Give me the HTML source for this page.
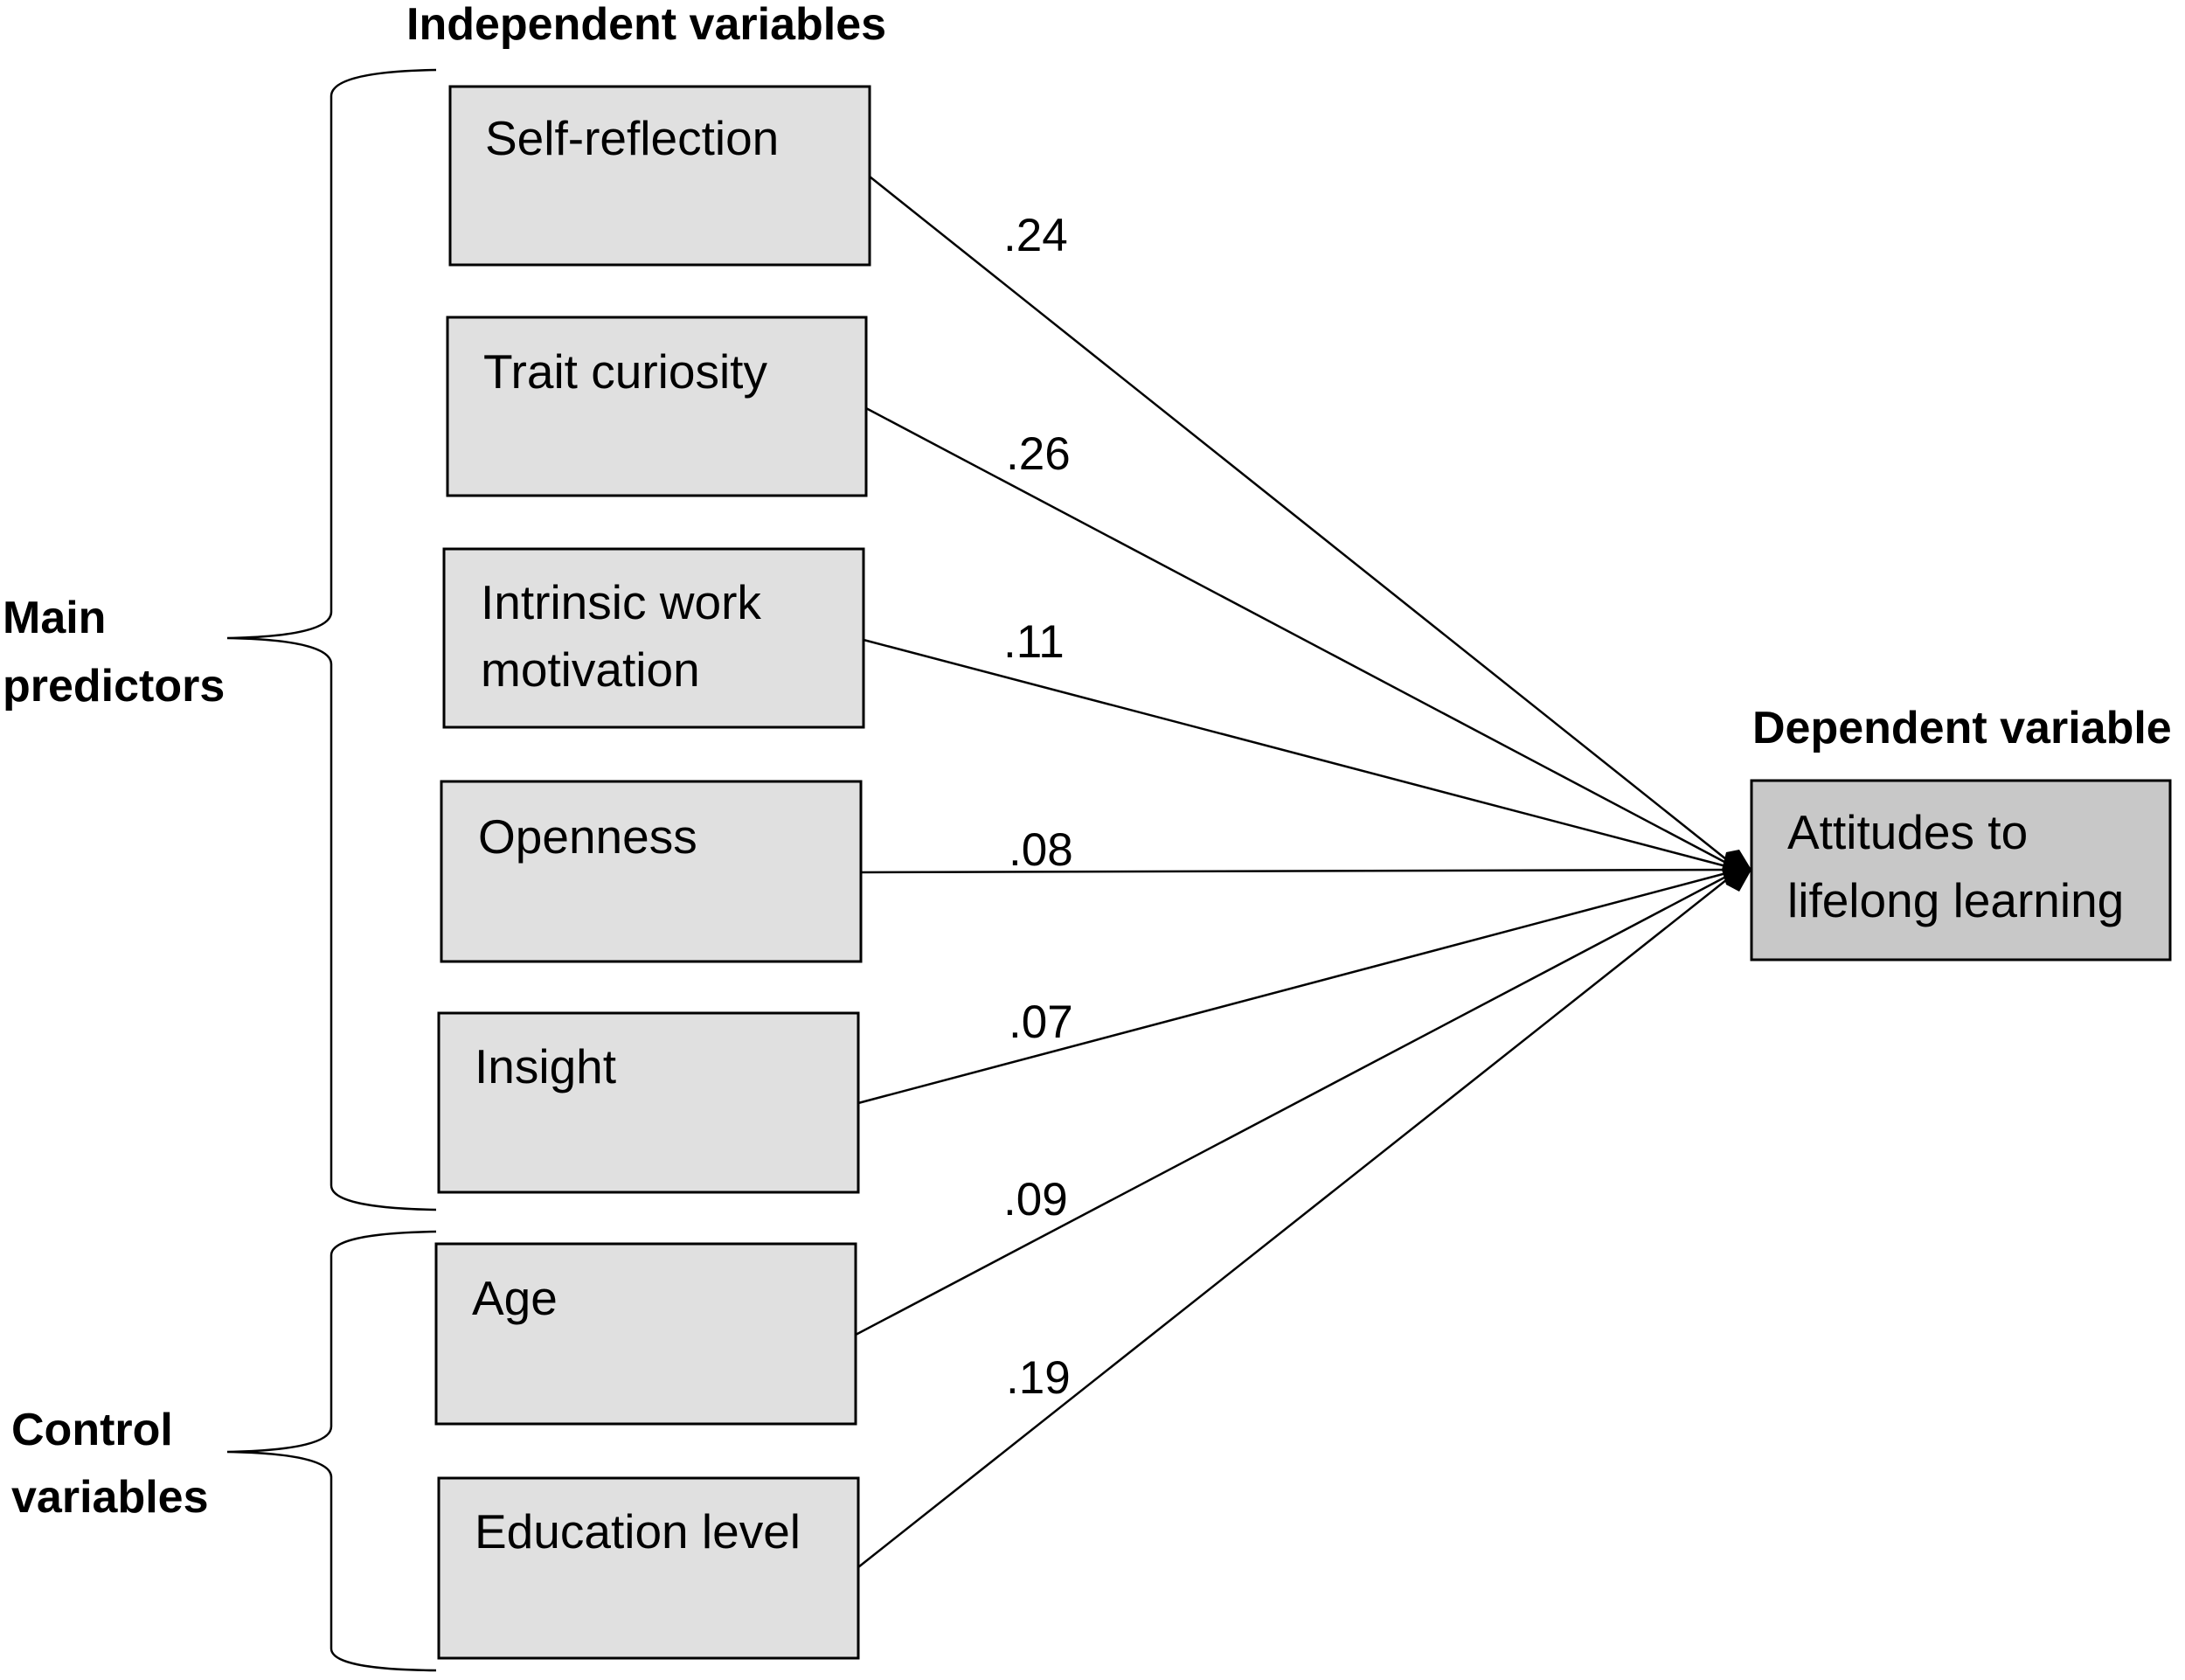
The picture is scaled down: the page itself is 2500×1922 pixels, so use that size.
<!DOCTYPE html>
<html><head><meta charset="utf-8"><style>
html,body{margin:0;padding:0;background:#fff;}
svg{display:block;}
text{font-family:"Liberation Sans",sans-serif;fill:#000;}
.t{font-size:55px;}
.b{font-size:52px;font-weight:bold;}
.n{font-size:53px;}
</style></head><body>
<svg width="2500" height="1922" viewBox="0 0 2500 1922">
<g fill="#e0e0e0" stroke="#000" stroke-width="3">
<rect x="515" y="99" width="480" height="204"/>
<rect x="512" y="363" width="479" height="204"/>
<rect x="508" y="628" width="480" height="204"/>
<rect x="505" y="894" width="480" height="206"/>
<rect x="502" y="1159" width="480" height="205"/>
<rect x="499" y="1423" width="480" height="206"/>
<rect x="502" y="1691" width="480" height="206"/>
<rect x="2004" y="893" width="479" height="205" fill="#c8c8c8"/>
</g>
<g stroke="#000" stroke-width="2.5" fill="none">
<line x1="995" y1="202" x2="1990" y2="995"/>
<line x1="991" y1="467" x2="1990" y2="995"/>
<line x1="988" y1="732" x2="1990" y2="995"/>
<line x1="985" y1="998" x2="1990" y2="995"/>
<line x1="982" y1="1262" x2="1990" y2="995"/>
<line x1="979" y1="1527" x2="1990" y2="995"/>
<line x1="982" y1="1793" x2="1990" y2="995"/>
<path d="M499 80 Q379 82 379 110 L379 700 Q379 728 260 730 Q379 732 379 760 L379 1356 Q379 1382 499 1384"/>
<path d="M499 1409 Q379 1411 379 1436 L379 1632 Q379 1659 260 1661 Q379 1663 379 1690 L379 1886 Q379 1910 499 1911"/>
</g>
<polygon points="1975,975 1990,972 2004,995 1990,1020 1975,1012 1970,995" fill="#000"/>
<text class="t" x="555" y="177">Self-reflection</text>
<text class="t" x="553" y="444">Trait curiosity</text>
<text class="t" x="550" y="708">Intrinsic work</text>
<text class="t" x="550" y="785">motivation</text>
<text class="t" x="547" y="976">Openness</text>
<text class="t" x="543" y="1239">Insight</text>
<text class="t" x="540" y="1504">Age</text>
<text class="t" x="543" y="1771">Education level</text>
<text class="t" x="2045" y="971">Attitudes to</text>
<text class="t" x="2045" y="1049">lifelong learning</text>
<text class="n" x="1148" y="287">.24</text>
<text class="n" x="1151" y="537">.26</text>
<text class="n" x="1148" y="752">.11</text>
<text class="n" x="1154" y="990">.08</text>
<text class="n" x="1154" y="1187">.07</text>
<text class="n" x="1148" y="1390">.09</text>
<text class="n" x="1151" y="1594">.19</text>
<text class="b" x="465" y="45">Independent variables</text>
<text class="b" x="2005" y="850">Dependent variable</text>
<text class="b" x="3" y="724">Main</text>
<text class="b" x="3" y="802">predictors</text>
<text class="b" x="13" y="1653">Control</text>
<text class="b" x="13" y="1730">variables</text>
</svg>
</body></html>
